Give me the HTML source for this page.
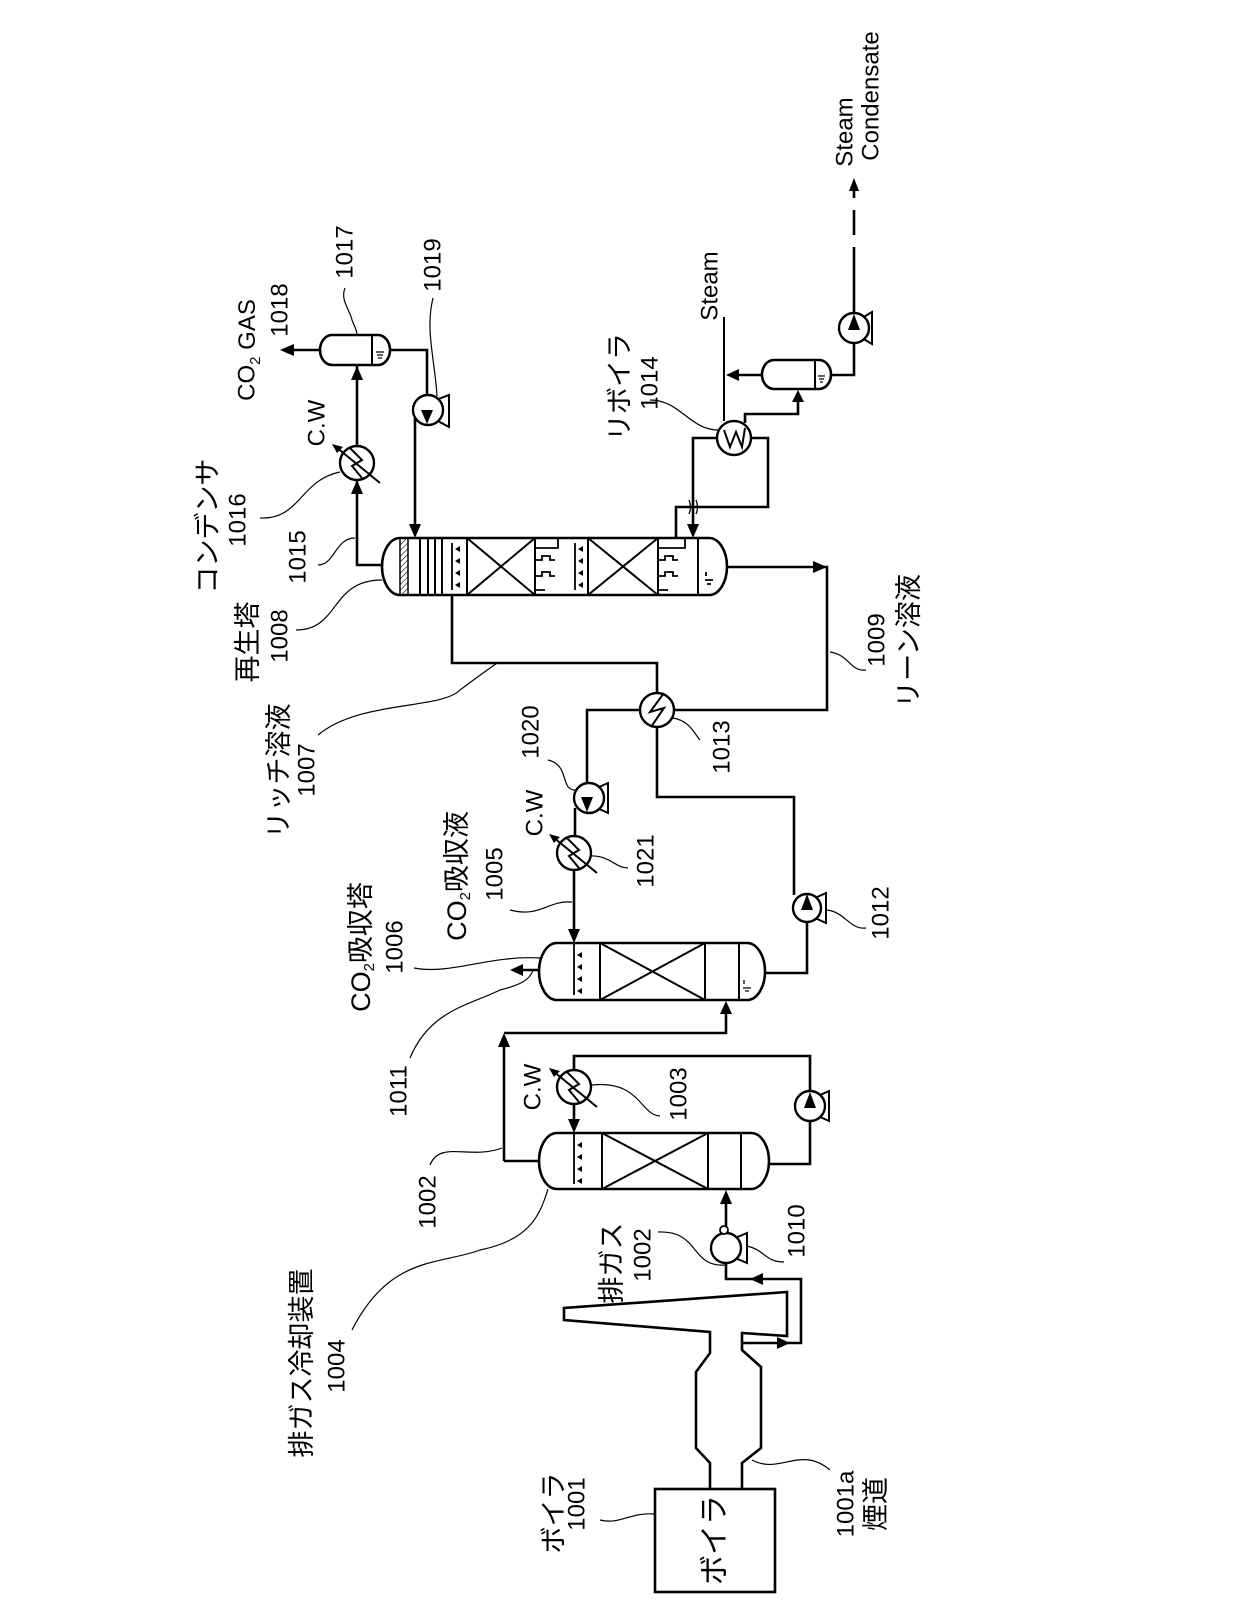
<!DOCTYPE html>
<html><head><meta charset="utf-8"><style>
html,body{margin:0;padding:0;background:#fff}
svg{display:block}
text{font-family:"Liberation Sans","Noto Sans CJK JP",sans-serif;fill:#000}
.p{fill:none;stroke:#000;stroke-width:2.6}
.t{fill:none;stroke:#000;stroke-width:1.3}
.l{fill:none;stroke:#000;stroke-width:1.2}
.a{fill:#000;stroke:none}
.n{font-size:24px}
.j{font-size:27px}
</style></head><body>
<svg width="1244" height="1606" viewBox="0 0 1244 1606" xmlns="http://www.w3.org/2000/svg">
<defs>
<pattern id="h" width="4" height="4" patternUnits="userSpaceOnUse" patternTransform="rotate(45)"><line x1="0" y1="0" x2="0" y2="4" stroke="#000" stroke-width="1.2"/></pattern>
</defs>

<!-- ===== Regenerator 1008 ===== -->
<path class="p" d="M400,538 H709 A18,28.5 0 0 1 709,595 H400 A18,28.5 0 0 1 400,538 Z"/>
<rect x="400" y="538" width="8" height="57" fill="url(#h)" stroke="#000" stroke-width="1.5"/>
<g class="p" style="stroke-width:2">
<line x1="420" y1="538" x2="420" y2="595"/><line x1="428" y1="538" x2="428" y2="595"/>
<line x1="435" y1="538" x2="435" y2="595"/><line x1="442" y1="538" x2="442" y2="595"/>
<line x1="467" y1="538" x2="467" y2="595"/><line x1="535" y1="538" x2="535" y2="595"/>
<line x1="588" y1="538" x2="588" y2="595"/><line x1="658" y1="538" x2="658" y2="595"/>
<line x1="698" y1="538" x2="698" y2="595"/>
<line x1="467" y1="538" x2="535" y2="595"/><line x1="467" y1="595" x2="535" y2="538"/>
<line x1="588" y1="538" x2="658" y2="595"/><line x1="588" y1="595" x2="658" y2="538"/>
</g>
<g class="t" style="stroke-width:1.8">
<line x1="452" y1="543" x2="452" y2="590"/>
<path d="M535,548 H558 V538"/><path d="M535,560 h7 v-4 h8 v4 h5 M535,576 h7 v-4 h8 v4 h5 M535,590 h10"/>
<line x1="575" y1="543" x2="575" y2="590"/>
<path d="M658,548 H685 V538"/><path d="M658,560 h7 v-4 h8 v4 h5 M658,576 h7 v-4 h8 v4 h5 M658,590 h10"/>
<path d="M705,580 h8 M707,584 h4 M706,576 v-4"/>
</g>
<g class="a">
<path d="M455,549 l5,-3 v6z M455,561 l5,-3 v6z M455,573 l5,-3 v6z M455,585 l5,-3 v6z"/>
<path d="M578,549 l5,-3 v6z M578,561 l5,-3 v6z M578,573 l5,-3 v6z M578,585 l5,-3 v6z"/>
</g>

<!-- overhead -->
<path class="p" d="M382,565 H357 V366"/>
<polygon class="a" points="357,480 351,494 363,494"/>
<polygon class="a" points="357,366 351,380 363,380"/>
<circle cx="357" cy="463" r="17" fill="#fff" stroke="#000" stroke-width="2.4"/>
<path class="t" style="stroke-width:2" d="M350,448 L362,460 L352,466 L362,478"/>
<line x1="380" y1="483" x2="336" y2="447" stroke="#000" stroke-width="2"/>
<polygon class="a" points="332,444 343,447 337,453"/>
<!-- drum 1017 -->
<path class="p" d="M332,335 H378 A12,15 0 0 1 378,365 H332 A12,15 0 0 1 332,335 Z" fill="#fff"/>
<line x1="372" y1="335" x2="372" y2="365" stroke="#000" stroke-width="2"/>
<path class="t" d="M376,352 h8 M377,355 h6 M378,358 h4"/>
<path class="p" d="M320,350 H292"/>
<polygon class="a" points="280,350 294,344 294,356"/>
<path class="p" d="M390,350 H427 V396"/>
<polygon points="436,400 449,395 449,427 436,420" fill="#fff" stroke="#000" stroke-width="2"/>
<circle cx="428" cy="410" r="15" fill="#fff" stroke="#000" stroke-width="2.4"/>
<polygon class="a" points="427,424 421,410 433,410"/>
<path class="p" d="M415,418 V528"/>
<polygon class="a" points="415,538 409,524 421,524"/>

<!-- reboiler -->
<path class="p" d="M717,438 H693 V528"/>
<polygon class="a" points="693,538 687,524 699,524"/>
<path class="p" d="M676,538 V507 H768 V438 H751"/>
<path class="t" d="M689,514 q3,-7 0,-14 M696,514 q3,-7 0,-14"/>
<path class="p" style="stroke-width:2" d="M724,317 V421"/>
<path class="p" d="M745,423 V414 H798 V400"/>
<polygon class="a" points="798,390 792,402 804,402"/>
<circle cx="734" cy="438" r="17" fill="#fff" stroke="#000" stroke-width="2.4"/>
<path class="t" style="stroke-width:2" d="M724,430 L730,447 L736,432 L742,447 L745,428"/>
<!-- condensate drum -->
<path class="p" d="M774,360 H819 A12,14.5 0 0 1 819,389 H774 A12,14.5 0 0 1 774,360 Z" fill="#fff"/>
<line x1="815" y1="360" x2="815" y2="389" stroke="#000" stroke-width="2"/>
<path class="t" d="M818,376 h7 M819,379 h5 M820,382 h3"/>
<path class="p" d="M762,375 H738"/>
<polygon class="a" points="726,375 739,369 739,381"/>
<path class="p" d="M831,375 H854 V343"/>
<polygon points="862,318 872,312 872,344 862,338" fill="#fff" stroke="#000" stroke-width="2"/>
<circle cx="854" cy="328" r="15" fill="#fff" stroke="#000" stroke-width="2.4"/>
<polygon class="a" points="854,314 848,330 860,330"/>
<path class="p" d="M854,313 V247 M854,235 V210 M854,198 V188"/>
<polygon class="a" points="854,178 849,191 859,191"/>

<!-- rich / lean -->
<path class="p" d="M452,595 V663 H657 V693"/>
<path class="p" d="M640,710 H587 V783"/>
<path class="p" d="M674,710 H827 V567 H727"/>
<polygon class="a" points="827,567 813,561 813,573"/>
<circle cx="657" cy="710" r="17" fill="#fff" stroke="#000" stroke-width="2.4"/>
<path class="t" style="stroke-width:2" d="M664,693 L650,712 L664,708 L651,727"/>
<path class="p" d="M657,727 V797 H794 V895"/>

<!-- pump 1020 -->
<polygon points="597,788 608,783 608,813 597,808" fill="#fff" stroke="#000" stroke-width="2"/>
<circle cx="589" cy="798" r="15" fill="#fff" stroke="#000" stroke-width="2.4"/>
<polygon class="a" points="587,812 581,797 593,797"/>
<path class="p" d="M575,808 V836"/>
<circle cx="574" cy="853" r="17" fill="#fff" stroke="#000" stroke-width="2.4"/>
<path class="t" style="stroke-width:2" d="M567,838 L579,850 L569,856 L579,868"/>
<line x1="597" y1="873" x2="553" y2="837" stroke="#000" stroke-width="2"/>
<polygon class="a" points="549,834 560,837 554,843"/>
<path class="p" d="M574,870 V931"/>
<polygon class="a" points="574,943 568,929 580,929"/>

<!-- Absorber 1006 -->
<path class="p" d="M557,943 H747 A18,28.5 0 0 1 747,1000 H557 A18,28.5 0 0 1 557,943 Z"/>
<g class="p" style="stroke-width:2">
<line x1="600" y1="943" x2="600" y2="1000"/><line x1="705" y1="943" x2="705" y2="1000"/>
<line x1="739" y1="943" x2="739" y2="1000"/>
<line x1="600" y1="943" x2="705" y2="1000"/><line x1="600" y1="1000" x2="705" y2="943"/>
</g>
<line x1="574" y1="943" x2="574" y2="995" stroke="#000" stroke-width="1.8"/>
<path class="a" d="M577,955 l5,-3 v6z M577,967 l5,-3 v6z M577,979 l5,-3 v6z M577,991 l5,-3 v6z"/>
<path class="t" d="M743,988 h8 M745,991 h4 M744,984 v-4"/>
<path class="p" d="M539,970 H522"/>
<polygon class="a" points="510,970 523,964 523,976"/>
<path class="p" d="M765,973 H807 V922"/>
<polygon points="815,898 826,893 826,923 815,918" fill="#fff" stroke="#000" stroke-width="2"/>
<circle cx="807" cy="908" r="14" fill="#fff" stroke="#000" stroke-width="2.4"/>
<polygon class="a" points="807,894 801,910 813,910"/>

<!-- Cooler 1004 -->
<path class="p" d="M504,1161 V1045 M504,1033 H726 V1012"/>
<polygon class="a" points="504,1033 498,1047 510,1047"/>
<polygon class="a" points="726,1001 720,1014 732,1014"/>
<path class="p" d="M539,1161 H504"/>
<path class="p" d="M557,1133 H751 A18,28 0 0 1 751,1189 H557 A18,28 0 0 1 557,1133 Z"/>
<g class="p" style="stroke-width:2">
<line x1="602" y1="1133" x2="602" y2="1189"/><line x1="708" y1="1133" x2="708" y2="1189"/>
<line x1="741" y1="1133" x2="741" y2="1189"/>
<line x1="602" y1="1133" x2="708" y2="1189"/><line x1="602" y1="1189" x2="708" y2="1133"/>
</g>
<line x1="574" y1="1133" x2="574" y2="1184" stroke="#000" stroke-width="1.8"/>
<path class="a" d="M577,1145 l5,-3 v6z M577,1157 l5,-3 v6z M577,1169 l5,-3 v6z M577,1181 l5,-3 v6z"/>
<path class="p" d="M769,1164 H810 V1121 M810,1091 V1056 H574 V1070 M574,1104 V1121"/>
<polygon class="a" points="574,1133 568,1119 580,1119"/>
<polygon points="818,1096 829,1091 829,1121 818,1116" fill="#fff" stroke="#000" stroke-width="2"/>
<circle cx="810" cy="1106" r="15" fill="#fff" stroke="#000" stroke-width="2.4"/>
<polygon class="a" points="810,1092 804,1108 816,1108"/>
<circle cx="574" cy="1087" r="17" fill="#fff" stroke="#000" stroke-width="2.4"/>
<path class="t" style="stroke-width:2" d="M567,1072 L579,1084 L569,1090 L579,1102"/>
<line x1="597" y1="1107" x2="553" y2="1071" stroke="#000" stroke-width="2"/>
<polygon class="a" points="549,1068 560,1071 554,1077"/>

<!-- fan 1010 -->
<path class="p" d="M726,1233 V1202"/>
<polygon class="a" points="726,1190 720,1204 732,1204"/>
<polygon points="735,1238 747,1233 747,1263 735,1258" fill="#fff" stroke="#000" stroke-width="2"/>
<circle cx="726" cy="1248" r="15" fill="#fff" stroke="#000" stroke-width="2.4"/>
<circle cx="724" cy="1230" r="4" fill="#fff" stroke="#000" stroke-width="1.8"/>
<path class="p" d="M726,1263 V1279 H801 V1343 H742"/>
<polygon class="a" points="750,1279 763,1273 763,1285"/>
<polygon class="a" points="790,1343 777,1337 777,1349"/>

<!-- boiler, duct, stack -->
<rect x="655" y="1489" width="120" height="103" class="p"/>
<path class="p" d="M710,1489 V1463 L696,1448 V1372 L710,1353 V1332 L564,1320 V1308 L787,1292 V1336 L742,1333 V1350 L761,1367 V1448 L742,1463 V1489"/>

<!-- ===== leaders ===== -->
<g class="l">
<path d="M345,288 C340,300 350,310 352,320 C355,328 357,330 357,335"/>
<path d="M433,298 C425,330 435,360 437,396"/>
<path d="M260,518 C300,520 300,480 340,472"/>
<path d="M318,565 C335,565 335,538 355,538"/>
<path d="M296,630 C340,630 330,580 382,580"/>
<path d="M318,735 C360,700 440,710 460,690 C480,675 490,668 497,663"/>
<path d="M650,400 C680,400 690,430 718,430"/>
<path d="M548,760 C570,765 560,790 575,790"/>
<path d="M628,868 C615,868 610,855 590,856"/>
<path d="M700,740 C695,735 690,720 672,718"/>
<path d="M830,652 C850,655 850,672 866,670"/>
<path d="M510,910 C540,918 548,900 572,902"/>
<path d="M414,968 C450,975 490,955 540,958"/>
<path d="M410,1058 C430,1010 470,1005 500,990 C520,985 530,980 533,970"/>
<path d="M430,1165 C440,1140 470,1160 502,1148"/>
<path d="M660,1116 C640,1115 640,1080 592,1085"/>
<path d="M352,1330 C390,1255 440,1265 480,1250 C530,1240 540,1215 548,1189"/>
<path d="M658,1232 C700,1230 690,1268 726,1265"/>
<path d="M747,1246 C765,1250 765,1262 784,1262"/>
<path d="M830,1470 C800,1445 780,1475 752,1460"/>
<path d="M600,1520 C620,1525 630,1512 655,1514"/>
<path d="M827,910 C845,912 850,930 866,928"/>
</g>

<!-- ===== labels (rotated -90) ===== -->
<g text-anchor="middle" dominant-baseline="central">
<text class="n" x="247" y="350" transform="rotate(-90 247 350)">CO<tspan font-size="15" dy="8">2</tspan><tspan dy="-8"> GAS</tspan></text>
<text class="n" x="280" y="310" transform="rotate(-90 280 310)">1018</text>
<text class="n" x="345" y="252" transform="rotate(-90 345 252)">1017</text>
<text class="n" x="433" y="265" transform="rotate(-90 433 265)">1019</text>
<text class="n" x="317" y="423" transform="rotate(-90 317 423)">C.W</text>
<text class="j" x="208" y="526" transform="rotate(-90 208 526)">コンデンサ</text>
<text class="n" x="238" y="520" transform="rotate(-90 238 520)">1016</text>
<text class="n" x="298" y="557" transform="rotate(-90 298 557)">1015</text>
<text class="j" x="248" y="642" transform="rotate(-90 248 642)">再生塔</text>
<text class="n" x="280" y="636" transform="rotate(-90 280 636)">1008</text>
<text class="j" x="279" y="771" transform="rotate(-90 279 771)">リッチ溶液</text>
<text class="n" x="307" y="770" transform="rotate(-90 307 770)">1007</text>
<text class="j" x="620" y="387" transform="rotate(-90 620 387)">リボイラ</text>
<text class="n" x="650" y="383" transform="rotate(-90 650 383)">1014</text>
<text class="n" x="710" y="286" transform="rotate(-90 710 286)">Steam</text>
<text class="n" x="845" y="132" transform="rotate(-90 845 132)">Steam</text>
<text class="n" x="871" y="96" transform="rotate(-90 871 96)">Condensate</text>
<text class="n" x="531" y="732" transform="rotate(-90 531 732)">1020</text>
<text class="n" x="535" y="813" transform="rotate(-90 535 813)">C.W</text>
<text class="n" x="646" y="861" transform="rotate(-90 646 861)">1021</text>
<text class="n" x="722" y="747" transform="rotate(-90 722 747)">1013</text>
<text class="n" x="877" y="640" transform="rotate(-90 877 640)">1009</text>
<text class="j" x="909" y="641" transform="rotate(-90 909 641)">リーン溶液</text>
<text class="j" x="457" y="876" transform="rotate(-90 457 876)">CO<tspan font-size="15" dy="8">2</tspan><tspan dy="-8">吸収液</tspan></text>
<text class="n" x="495" y="874" transform="rotate(-90 495 874)">1005</text>
<text class="j" x="361" y="947" transform="rotate(-90 361 947)">CO<tspan font-size="15" dy="8">2</tspan><tspan dy="-8">吸収塔</tspan></text>
<text class="n" x="395" y="947" transform="rotate(-90 395 947)">1006</text>
<text class="n" x="881" y="913" transform="rotate(-90 881 913)">1012</text>
<text class="n" x="399" y="1091" transform="rotate(-90 399 1091)">1011</text>
<text class="n" x="428" y="1202" transform="rotate(-90 428 1202)">1002</text>
<text class="n" x="533" y="1087" transform="rotate(-90 533 1087)">C.W</text>
<text class="n" x="679" y="1094" transform="rotate(-90 679 1094)">1003</text>
<text class="j" x="302" y="1363" transform="rotate(-90 302 1363)">排ガス冷却装置</text>
<text class="n" x="337" y="1366" transform="rotate(-90 337 1366)">1004</text>
<text class="j" x="612" y="1263" transform="rotate(-90 612 1263)">排ガス</text>
<text class="n" x="643" y="1255" transform="rotate(-90 643 1255)">1002</text>
<text class="n" x="797" y="1231" transform="rotate(-90 797 1231)">1010</text>
<text class="j" x="554" y="1513" transform="rotate(-90 554 1513)">ボイラ</text>
<text class="n" x="577" y="1504" transform="rotate(-90 577 1504)">1001</text>
<text class="n" x="846" y="1504" transform="rotate(-90 846 1504)">1001a</text>
<text class="j" x="876" y="1504" transform="rotate(-90 876 1504)">煙道</text>
<text class="j" x="715" y="1540" transform="rotate(-90 715 1540)" style="font-size:30px">ボイラ</text>
</g>
</svg>
</body></html>
